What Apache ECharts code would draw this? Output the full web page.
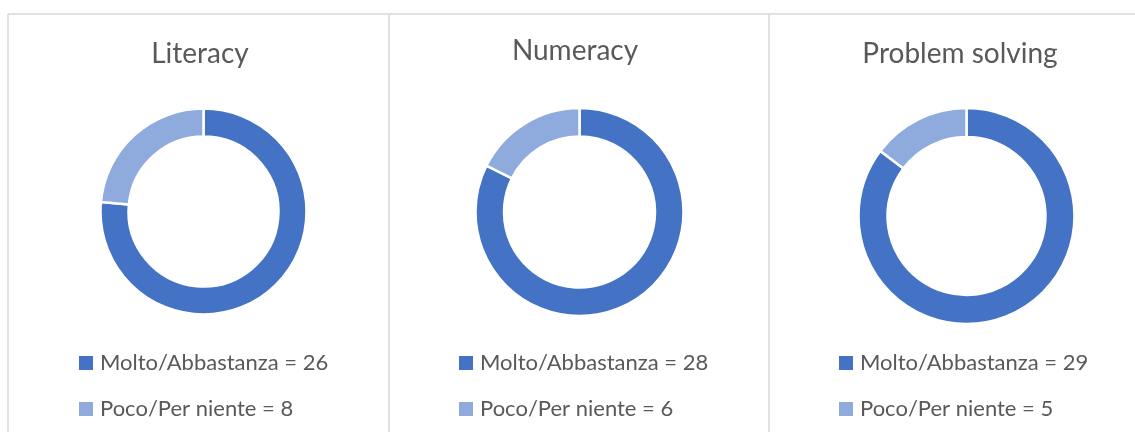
<!DOCTYPE html>
<html>
<head>
<meta charset="utf-8">
<style>
  html, body { margin: 0; padding: 0; background: #fff; }
  #chart { width: 1135px; height: 432px; }
</style>
<script src="https://cdn.jsdelivr.net/npm/echarts@6/dist/echarts.min.js"></script>
</head>
<body>
<div id="chart"></div>
<script>
// dati
var panelTitles = ['Literacy', 'Numeracy', 'Problem solving']
var categories = ['Molto/Abbastanza', 'Poco/Per niente']
var molto = [26, 28, 29]
var poco = [8, 6, 5]

var colors = ['#4472C4', '#8FAADC']
var textColor = '#595959'
var font = 'Lato, "Open Sans", sans-serif'

// layout di ogni pannello
var centers = [[203.5, 211.5], [579.5, 212], [966.5, 216]]
var radii = [[75, 103], [75.5, 104], [79, 108]]
var titleTop = [40, 37, 40]
var titleX = [200, 575, 960]
var legendX = [79, 459, 839]

var chart = echarts.init(document.getElementById('chart'))

var series = []
var titles = []
var legends = []
panelTitles.forEach(function (t, i) {
  var names = [categories[0] + ' = ' + molto[i], categories[1] + ' = ' + poco[i]]
  series.push({
    type: 'pie',
    center: centers[i],
    radius: radii[i],
    startAngle: 90,
    clockwise: true,
    label: { show: false },
    labelLine: { show: false },
    silent: true,
    itemStyle: { borderColor: '#fff', borderWidth: 2.5 },
    data: [
      { name: names[0], value: molto[i], itemStyle: { color: colors[0] } },
      { name: names[1], value: poco[i], itemStyle: { color: colors[1] } }
    ]
  })
  titles.push({
    text: t,
    left: titleX[i],
    top: titleTop[i],
    textAlign: 'center',
    padding: 0,
    textStyle: { fontFamily: font, fontSize: 28, fontWeight: 'normal', color: textColor }
  })
  legends.push({
    data: names,
    orient: 'vertical',
    left: legendX[i],
    top: 351,
    padding: 0,
    icon: 'rect',
    itemWidth: 14,
    itemHeight: 14,
    itemGap: 22,
    selectedMode: false,
    itemStyle: { borderWidth: 0 },
    textStyle: { fontFamily: font, fontSize: 22, color: textColor, lineHeight: 24, padding: [0, 0, 0, 2] }
  })
})

var border = { stroke: '#D9D9D9', lineWidth: 1.5 }

chart.setOption({
  animation: false,
  title: titles,
  legend: legends,
  series: series,
  graphic: [
    { type: 'line', shape: { x1: 8, y1: 14, x2: 1135, y2: 14 }, style: border },
    { type: 'line', shape: { x1: 8, y1: 14, x2: 8, y2: 432 }, style: border },
    { type: 'line', shape: { x1: 389, y1: 14, x2: 389, y2: 432 }, style: border },
    { type: 'line', shape: { x1: 769, y1: 14, x2: 769, y2: 432 }, style: border }
  ]
})
</script>
</body>
</html>
